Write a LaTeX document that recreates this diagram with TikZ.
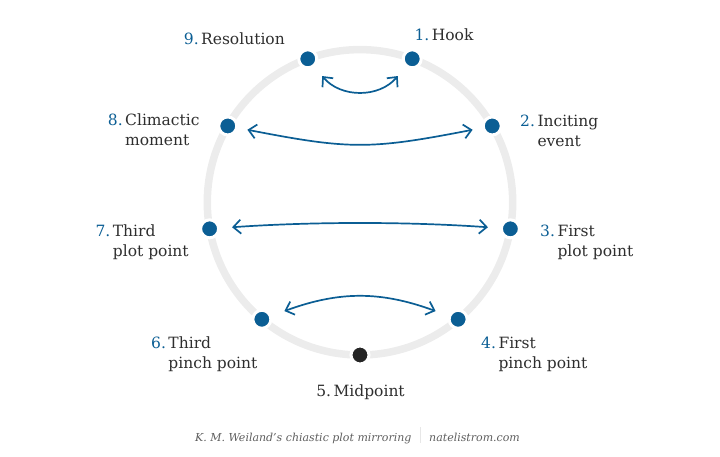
\documentclass[tikz,border=0pt]{standalone}
\usepackage{fontspec}
\setmainfont{DejaVu Serif}
\usepackage{xcolor}
\usepackage{tikz}
\usetikzlibrary{arrows.meta}
\usetikzlibrary{positioning}

\definecolor{plotblue}{HTML}{0B5E94}
\definecolor{plotdark}{HTML}{262626}
\definecolor{plottext}{HTML}{2E2E2E}
\definecolor{plotring}{HTML}{ECECEC}
\definecolor{plotnote}{HTML}{5E5E5E}

% number hanging left of the first line
\newcommand{\stepno}[1]{\makebox[0pt][r]{\textcolor{plotblue}{#1}\hspace{2.5pt}}}

\tikzset{%
    beat/.style={
        circle, fill=plotblue, draw=white, line width=3pt,
        minimum size=18pt, inner sep=0pt
    },
    midbeat/.style={beat, fill=plotdark},
    beattext/.style={
        inner sep=0pt, align=left, text=plottext,
        font=\fontsize{15.5}{19.8}\selectfont
    },
    pairarrow/.style={
        draw=plotblue, line width=1.7pt,
        {Straight Barb[length=7.5pt,width=14pt]}-{Straight Barb[length=7.5pt,width=14pt]}
    }
}
\tikzset{ring/.style={draw=plotring, line width=7.5pt}}
\tikzset{notetext/.style={inner sep=0pt, text=plotnote, font=\fontsize{11}{13}\selectfont\itshape}}

\begin{document}
\begin{tikzpicture}[x=1pt, y=1pt]
		\useasboundingbox (-360,-253.7) rectangle (360,202.3);

		\draw[ring] (0,0) circle (152.7);

		% the nine beats, 40 degrees apart
		\node[beat] (p1) at (70:152.7) {};
		\node[beat] (p2) at (30:152.7) {};
		\node[beat] (p3) at (-10:152.7) {};
		\node[beat] (p4) at (-50:152.7) {};
		\node[midbeat] (p5) at (-90:152.7) {};
		\node[beat] (p6) at (-130:152.7) {};
		\node[beat] (p7) at (-170:152.7) {};
		\node[beat] (p8) at (150:152.7) {};
		\node[beat] (p9) at (110:152.7) {};

		% base of a two-line label is its second line
		\node[beattext, anchor=base west] (l1) at (71.7,161.6) {\stepno{1.}Hook};
		\node[beattext, anchor=base west] (l2) at (177.3,56.2) {\stepno{2.}Inciting\\event};
		\node[beattext, anchor=base west] (l3) at (197.3,-53.9) {\stepno{3.}First\\plot point};
		\node[beattext, anchor=base west] (l4) at (138.3,-166) {\stepno{4.}First\\pinch point};
		\node[beattext, anchor=base] (l5) at (0.5,-193.7) {5.\hspace{2.5pt}Midpoint};
		\node[beattext, anchor=base west] (l6) at (-191.7,-166) {\stepno{6.}Third\\pinch point};
		\node[beattext, anchor=base west] (l7) at (-247.3,-54.2) {\stepno{7.}Third\\plot point};
		\node[beattext, anchor=base west] (l8) at (-235,57.1) {\stepno{8.}Climactic\\moment};
		\node[beattext, anchor=base west] (l9) at (-159,158.3) {\stepno{9.}Resolution};

		% mirrored pairs
		\draw[pairarrow, shorten <=12pt, shorten >=12pt] (p9) to[out=-50, in=-130, looseness=1.15] (p1);
		\draw[pairarrow, shorten <=9.5pt, shorten >=9.5pt] (p8) to[out=-11, in=-169, looseness=1.2] (p2);
		\draw[pairarrow, shorten <=12pt, shorten >=12pt] (p7) to[out=4, in=176, looseness=0.85] (p3);
		\draw[pairarrow, shorten <=13.5pt, shorten >=13.5pt] (p6) to[out=20, in=160, looseness=1.05] (p4);

		% source line
		\node[notetext, anchor=base east] (src) at (51.7,-238.7) {K. M. Weiland’s chiastic plot mirroring};
		\node[notetext, anchor=base west] (site) at (69,-238.7) {natelistrom.com};
		\coordinate (septop) at (60.7,-224.7);
		\coordinate (sepbot) at (60.7,-240.7);
		\draw[plotring!80!gray!60, line width=0.8pt] (septop) -- (sepbot);

	\end{tikzpicture}
\end{document}
